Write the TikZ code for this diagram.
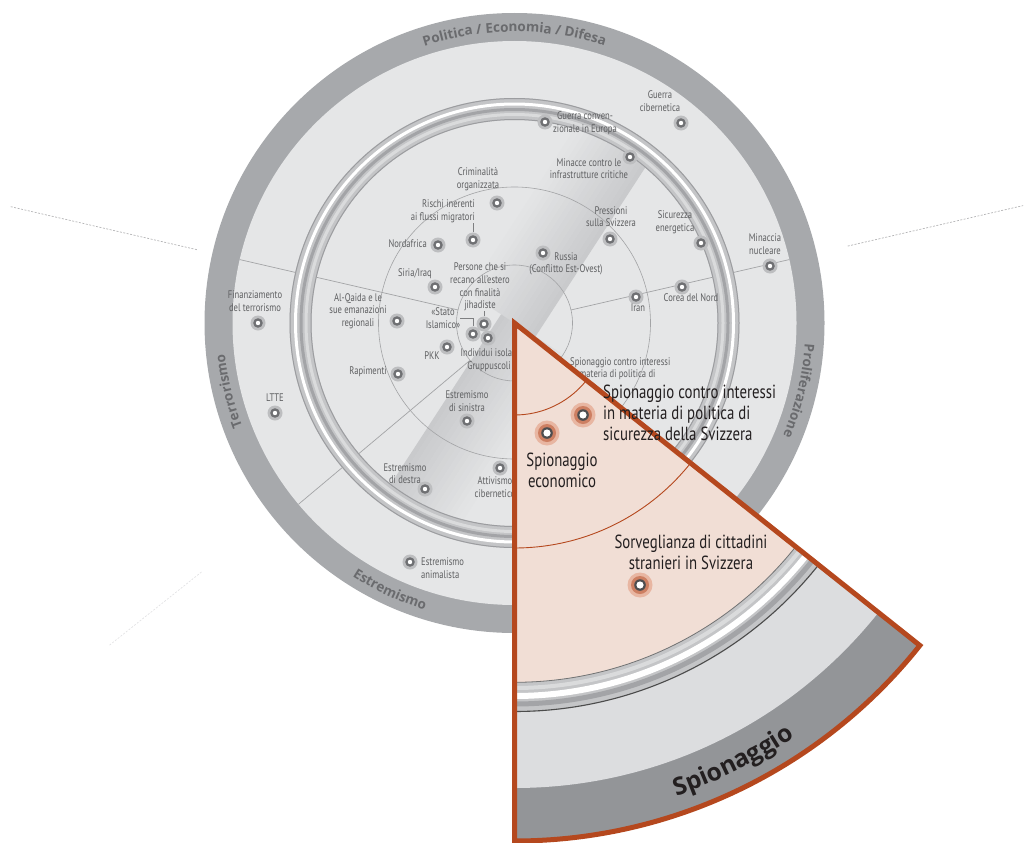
\documentclass[tikz,border=0pt]{standalone}
\usepackage{fontspec}
\setmainfont{PT Sans}
\newfontfamily\cond[FakeStretch=0.78]{PT Sans}
\newfontfamily\ringf{Open Sans}
\usetikzlibrary{decorations.text}
\definecolor{disk}{HTML}{E5E6E7}
\definecolor{band}{HTML}{A7A9AC}
\definecolor{ringtext}{HTML}{6A6B6E}
\definecolor{lbl}{HTML}{5E5F61}
\definecolor{secline}{HTML}{A3A4A6}
\definecolor{stripe}{HTML}{C9CACC}
\definecolor{ringbase}{HTML}{C4C5C7}
\definecolor{ringedge}{HTML}{9C9DA0}
\definecolor{ringdark}{HTML}{A3A4A7}
\definecolor{ringlite}{HTML}{DADBDC}
\definecolor{dothalo}{HTML}{BDBEC0}
\definecolor{dotring}{HTML}{6F7073}
\definecolor{wpink}{HTML}{F1DED5}
\definecolor{wred}{HTML}{B5481E}
\definecolor{wlight}{HTML}{DCDDDF}
\definecolor{wdark}{HTML}{939598}
\definecolor{whalo}{HTML}{E8B6A2}
\definecolor{wmid}{HTML}{CD7F62}
\definecolor{wdk}{HTML}{4D4D4F}
\definecolor{ink}{HTML}{231F20}
\definecolor{fainta}{HTML}{B4B4B6}
\definecolor{faintb}{HTML}{E2E2E4}
\begin{document}
\begin{tikzpicture}[x=1pt,y=1pt,
  lab/.style={font=\cond\fontsize{11}{12.6}\selectfont, text=lbl, align=center, inner sep=0pt},
  wlab/.style={font=\cond\fontsize{19}{21}\selectfont, text=ink, align=center, inner sep=0pt},
  gdot/.style={circle, inner sep=0pt, minimum size=15pt, fill=dothalo,
    path picture={\fill[dotring] (path picture bounding box.center) circle (4.8pt);
                  \fill[white] (path picture bounding box.center) circle (2.2pt);}},
  wdot/.style={circle, inner sep=0pt, minimum size=25pt, fill=whalo,
    path picture={\fill[wmid] (path picture bounding box.center) circle (9pt);
                  \fill[wdk] (path picture bounding box.center) circle (5.8pt);
                  \fill[white] (path picture bounding box.center) circle (3.6pt);}},
  secl/.style={draw=secline, line width=0.7pt},
  tick/.style={draw=lbl!80, line width=0.6pt},
  fline/.style={line width=0.7pt, dash pattern=on 2pt off 1.5pt},
  ringlabel/.style={decorate, decoration={text along path, text align=center, text color=ringtext,
     text={|\ringf\bfseries\fontsize{13.5}{15}\selectfont|#1}}}
]
\useasboundingbox (0,0) rectangle (1025,-843);
\coordinate (C) at (514.5,-323);

% faint guide lines of the enlarged sector
\draw[fline, draw=fainta] (C) ++(167:326) -- ++(167:192);
\draw[fline, draw=fainta] (C) ++(13:342) -- ++(13:180);
\draw[fline, draw=faintb] (C) ++(218.5:400) -- ++(218.5:118);

% main disc
\fill[band] (C) circle (310);
\fill[disk] (C) circle (282);

% diagonal shaded ribbon
\begin{scope}
  \clip (C) circle (203);
  \begin{scope}[shift={(C)}, rotate=57]
    \foreach \i in {0,...,15} {
      \pgfmathtruncatemacro\p{100-\i*100/16}
      \fill[stripe!\p!disk] (0,-25+\i*5) rectangle (220,-25+\i*5+5.3);
    }
    \foreach \i in {0,...,15} {
      \pgfmathtruncatemacro\p{100-\i*100/16}
      \fill[stripe!\p!disk] (-220,16-\i*5) rectangle (0,16-\i*5-5.3);
    }
  \end{scope}
\end{scope}

% circles and sector lines
\draw[secl, line width=0.6pt] (C) circle (136) (C) circle (58);
\draw[secl, shift={(C)}] (13:58) -- (13:282);
\draw[secl, shift={(C)}] (167:58) -- (167:282);
\draw[secl, shift={(C)}] (220:58) -- (220:282);

% silver ring
\draw[ringbase, line width=22pt] (C) circle (214);
\draw[ringedge, line width=1pt] (C) circle (224.5);
\draw[white, line width=3pt] (C) circle (219);
\draw[ringdark, line width=3pt] (C) circle (213.5);
\draw[ringlite, line width=3pt] (C) circle (208.5);
\draw[ringedge, line width=1pt] (C) circle (203.5);

% ring labels
\path[ringlabel={Politica / Economia / Difesa}] (C) ++(150:291.2) arc[start angle=150, end angle=30, radius=291.2];
\path[ringlabel={Terrorismo}] (C) ++(233.5:291.2) arc[start angle=233.5, end angle=153.5, radius=291.2];
\path[ringlabel={Proliferazione}] (C) ++(26.6:291.2) arc[start angle=26.6, end angle=-53.4, radius=291.2];
\path[ringlabel={Estremismo}] (C) ++(205:300.8) arc[start angle=205, end angle=285, radius=300.8];

% dots
\node[gdot] (dgce) at (545,-122) {};
\node[gdot] (dgc) at (681,-123) {};
\node[gdot] (dmi) at (630,-157) {};
\node[gdot] (dco) at (497,-203) {};
\node[gdot] (dri) at (473,-240) {};
\node[gdot] (dnf) at (438,-245) {};
\node[gdot] (dps) at (610,-239) {};
\node[gdot] (dse) at (701,-243) {};
\node[gdot] (dmn) at (770,-266) {};
\node[gdot] (dcn) at (682,-287) {};
\node[gdot] (dir) at (636,-297) {};
\node[gdot] (dru) at (543,-253) {};
\node[gdot] (dpe) at (484,-324) {};
\node[gdot] (dsi) at (473,-334) {};
\node[gdot] (dii) at (488,-338) {};
\node[gdot] (dpkk) at (447,-347) {};
\node[gdot] (dsy) at (435,-287) {};
\node[gdot] (daq) at (397,-321) {};
\node[gdot] (dfi) at (258,-323) {};
\node[gdot] (dra) at (398,-374) {};
\node[gdot] (dlt) at (275,-413) {};
\node[gdot] (des) at (467,-421) {};
\node[gdot] (ded) at (425,-489) {};
\node[gdot] (dac) at (500,-468) {};
\node[gdot] (dea) at (410,-562) {};

% labels
\node[lab] (gce) at (585,-123) {Guerra conven-\\zionale in Europa};
\node[lab] (gc) at (660,-101) {Guerra\\cibernetica};
\node[lab] (mi) at (589,-168.5) {Minacce contro le\\infrastrutture critiche};
\node[lab] (co) at (478,-179.5) {Criminalità\\organizzata};
\node[lab, anchor=east, align=right] (ri) at (475,-211) {Rischi inerenti\\ai flussi migratori};
\node[lab, anchor=east] (nf) at (427,-244) {Nordafrica};
\node[lab] (ps) at (611,-216.5) {Pressioni\\sulla Svizzera};
\node[lab] (se) at (675,-222) {Sicurezza\\energetica};
\node[lab] (mn) at (765,-244) {Minaccia\\nucleare};
\node[lab] (cn) at (691,-298) {Corea del Nord};
\node[lab] (ir) at (638,-308) {Iran};
\node[lab] (ru) at (566,-264) {Russia\\(Conflitto Est-Ovest)};
\node[lab] (pe) at (480,-287) {Persone che si\\recano all’estero\\con finalità\\jihadiste};
\node[lab] (si) at (443,-318) {«Stato\\Islamico»};
\node[lab] (ii) at (489,-360) {Individui isolati\\Gruppuscoli};
\node[lab] (pkk) at (432,-356) {PKK};
\node[lab] (sy) at (415,-274) {Siria/Iraq};
\node[lab] (aq) at (358,-311) {Al-Qaida e le\\sue emanazioni\\regionali};
\node[lab] (fi) at (255,-301) {Finanziamento\\del terrorismo};
\node[lab] (ra) at (368,-372) {Rapimenti};
\node[lab] (lt) at (275,-398) {LTTE};
\node[lab] (es) at (467,-401) {Estremismo\\di sinistra};
\node[lab] (ed) at (405,-473.5) {Estremismo\\di destra};
\node[lab] (ac) at (495,-487) {Attivismo\\cibernetico};
\node[lab, anchor=west, align=left] (ea) at (421,-568) {Estremismo\\animalista};
\node[lab, anchor=west, align=left] (spm) at (570,-368.5) {Spionaggio contro interessi\\in materia di politica di};

% ticks
\draw[tick] (dri.north) -- (dri.north |- ri.south);
\draw[tick] (dpe.north) -- (dpe.north |- pe.south);
\draw[tick] (si.east) -- (si.east -| dsi.north) -- (dsi.north);

% enlarged sector
\begin{scope}
  \clip (C) -- ++(-90:518) arc[start angle=-90, end angle=-38.5, radius=518] -- cycle;
  \fill[wdark] (C) circle (518);
  \fill[wlight] (C) circle (465);
  \draw[ringbase, line width=30pt] (C) circle (374);
  \draw[ringlite, line width=4pt] (C) circle (365);
  \draw[white, line width=6pt] (C) circle (373);
  \draw[ringdark, line width=5pt] (C) circle (381);
  \draw[black!70, line width=1.1pt] (C) circle (388.5);
  \fill[wpink] (C) circle (359);
  \draw[black!55, line width=0.8pt] (C) circle (359.3);
  \draw[wred, line width=0.9pt] (C) circle (92) (C) circle (225);
\end{scope}
\path[decorate, decoration={text along path, text align=center, text color=ink,
   text={|\ringf\bfseries\fontsize{24.5}{26}\selectfont|Spionaggio}}]
   (C) ++(-85:500) arc[start angle=-85, end angle=-42, radius=500];
\draw[wred, line width=5pt, line join=miter] (C) -- ++(-90:518) arc[start angle=-90, end angle=-38.5, radius=518] -- cycle;

\node[wdot] (w1) at (583,-415) {};
\node[wdot] (w2) at (547,-433) {};
\node[wdot] (w3) at (640,-585) {};
\node[wlab, anchor=west, align=left] (wt1) at (603,-413) {Spionaggio contro interessi\\in materia di politica di\\sicurezza della Svizzera};
\node[wlab] (wt2) at (562,-470) {Spionaggio\\economico};
\node[wlab] (wt3) at (691,-552.5) {Sorveglianza di cittadini\\stranieri in Svizzera};
\end{tikzpicture}
\end{document}
